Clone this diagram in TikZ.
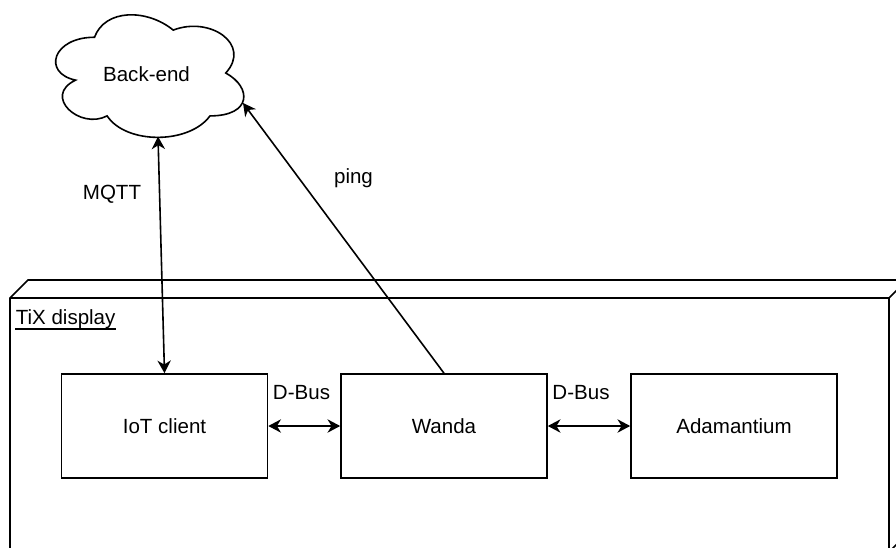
\documentclass[tikz,border=0pt]{standalone}
\usepackage{fontspec}
\setmainfont{Liberation Sans}
\usetikzlibrary{arrows.meta}
\begin{document}
\begin{tikzpicture}[x=0.75pt,y=-0.75pt,
  line width=1.2pt,
  >={Stealth[length=9.5pt,width=10pt,inset=3pt]},
  every node/.style={font=\fontsize{15.4pt}{18pt}\selectfont},
  comp/.style={draw, line width=1.2pt, minimum width=154.5pt, minimum height=78pt, inner sep=0pt},
  lbl/.style={inner sep=0pt}]
  % canvas
  \useasboundingbox (0,0) rectangle (896,547);
  \clip (0,0) rectangle (896,547);
  \fill[white] (0,0) rectangle (896,547);

  % 3D node "TiX display"
  \draw (10,298) -- (28,280) -- (907,280) -- (907,534) -- (889,552) -- (10,552) -- cycle;
  \draw (10,298) -- (889,298) -- (907,280);
  \draw (889,298) -- (889,552);
  \node[lbl, anchor=base west] (tix) at (15,324) {TiX display};
  \draw[line width=0.9pt] ([yshift=-3.75pt]tix.base west) -- ([yshift=-3.75pt]tix.base east);

  % cloud "Back-end"
  \begin{scope}[shift={(42,1.5)}, x=157.5pt, y=-107.25pt]
    \draw (0.25,0.25)
      .. controls (0.05,0.25) and (0,0.5) .. (0.16,0.55)
      .. controls (0,0.66) and (0.18,0.9) .. (0.31,0.8)
      .. controls (0.4,1) and (0.7,1) .. (0.8,0.8)
      .. controls (1,0.8) and (1,0.6) .. (0.875,0.5)
      .. controls (1,0.3) and (0.8,0.1) .. (0.625,0.2)
      .. controls (0.5,0.05) and (0.3,0.05) .. (0.25,0.25) -- cycle;
  \end{scope}
  \node[lbl] (backend) at (146.5,74) {Back-end};
  \coordinate (mqttend) at (158,136.5);
  \coordinate (pingend) at (243,103);

  % components
  \node[comp] (iot) at (164.5,426) {IoT client};
  \node[comp] (wanda) at (444,426) {Wanda};
  \node[comp] (adam) at (734,426) {Adamantium};

  % connectors
  \draw[<->] (iot.north) -- (mqttend);
  \draw[->] (wanda.north) -- (pingend);
  \draw[<->] (iot.east) -- (wanda.west);
  \draw[<->] (wanda.east) -- (adam.west);

  % connector labels
  \node[lbl] (mqtt) at (112,194.5) {MQTT};
  \node[lbl, anchor=base] (ping) at (353.5,183) {ping};
  \node[lbl] (dbus1) at (301.5,393) {D-Bus};
  \node[lbl] (dbus2) at (581,393) {D-Bus};
\end{tikzpicture}
\end{document}
